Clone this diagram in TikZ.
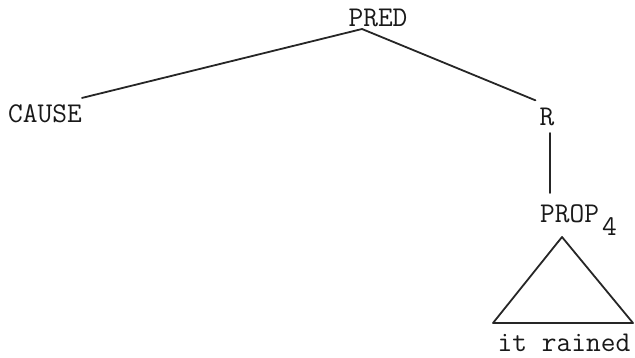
\documentclass[tikz,border=0pt]{standalone}
\begin{document}
\begin{tikzpicture}[x=1pt,y=-1pt,
  lbl/.style={inner sep=0pt,font=\fontsize{28.6}{34}\selectfont\ttfamily,text=black!90},
  branch/.style={line width=1.8pt,draw=black!85,line join=round,line cap=round}]
\useasboundingbox (0,0) rectangle (635,357);

% labels of the tree
\node[lbl,anchor=base] (pred) at (378,26) {PRED};
\node[lbl,anchor=base] (cause) at (45,122) {CAUSE};
\node[lbl,anchor=base] (r) at (547,125) {R};
\node[lbl,anchor=base west] (prop) at (540,222) {PROP\hspace{3pt}\raisebox{-13pt}{4}};
\node[lbl,anchor=base] (it) at (564,351) {it rained};

% branching points and roof corners
\coordinate (top) at ([shift={(-16,3)}]pred.base);
\coordinate (apex) at ([shift={(22,15)}]prop.base west);
\coordinate (bl) at ([shift={(-71,-28)}]it.base);
\coordinate (br) at ([shift={(69,-28)}]it.base);

% branches
\draw[branch] ([shift={(0,-6)}]cause.north east) -- (top) -- ([shift={(-4,-7)}]r.north west);
\draw[branch] ([shift={(3,8)}]r.base) -- ([shift={(10,-11)}]prop.north west);
\draw[branch] (apex) -- (bl) -- (br) -- cycle;
\end{tikzpicture}
\end{document}
